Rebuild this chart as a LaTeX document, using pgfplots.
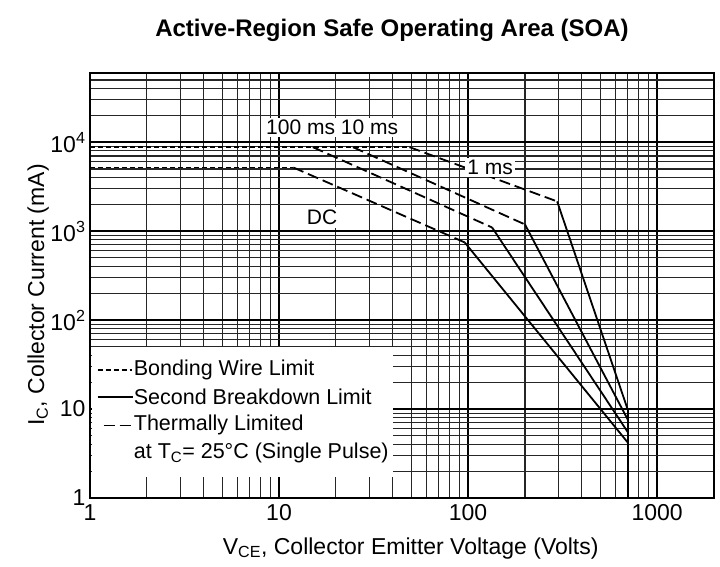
\documentclass[border=0pt]{standalone}
\usepackage{fontspec}
\setmainfont{Liberation Sans}
\usepackage{pgfplots}
\pgfplotsset{compat=1.18}
\begin{document}
\begin{tikzpicture}[x=1pt,y=1pt]
\path[use as bounding box] (-90,-68) rectangle (630,498);
\begin{axis}[
  at={(0,0)}, anchor=south west,
  scale only axis, width=624pt, height=425pt,
  xmode=log, ymode=log,
  xmin=1, xmax=2000, ymin=1, ymax=60000,
  xtick={1,10,100,1000}, xticklabels={1,10,100,1000},
  ytick={1,10,100,1000,10000},
  yticklabels={1,10,10\textsuperscript{2},10\textsuperscript{3},10\textsuperscript{4}},
  minor xtick={2,3,4,5,6,7,8,9,20,30,40,50,60,70,80,90,200,300,400,500,600,700,800,900,2000},
  minor ytick={2,3,4,5,6,7,8,9,20,30,40,50,60,70,80,90,200,300,400,500,600,700,800,900,2000,3000,4000,5000,6000,7000,8000,9000,20000,30000,40000,50000},
  grid=both,
  major grid style={black, line width=1.5pt},
  minor grid style={black!85, line width=1.1pt},
  major tick length=0pt, minor tick length=0pt,
  axis line style={black, line width=1.4pt},
  tick label style={font=\fontsize{23}{23}\selectfont},
  xticklabel style={yshift=-3pt},
  yticklabel style={xshift=-1pt},
  clip mode=individual,
]
% Bonding wire limit (short dashes)
\addplot[black, line width=1.8pt, dash pattern=on 5pt off 3pt] coordinates {(1,8800) (49,8800)};
\addplot[black, line width=1.8pt, dash pattern=on 5pt off 3pt] coordinates {(1,5200) (11.9,5200)};
% Thermally limited (long dashes)
\addplot[black, line width=1.8pt, dash pattern=on 11pt off 5pt] coordinates {(49,8800) (296,2160)};
\addplot[black, line width=1.8pt, dash pattern=on 11pt off 5pt] coordinates {(24.6,8800) (200,1190)};
\addplot[black, line width=1.8pt, dash pattern=on 11pt off 5pt] coordinates {(15.1,8800) (134,1100)};
\addplot[black, line width=1.8pt, dash pattern=on 11pt off 5pt] coordinates {(11.9,5200) (96,747)};
% Second breakdown limit (solid)
\addplot[black, line width=1.8pt] coordinates {(296,2160) (700,9.8)};
\addplot[black, line width=1.8pt] coordinates {(200,1190) (700,7.6)};
\addplot[black, line width=1.8pt] coordinates {(134,1100) (700,5.5)};
\addplot[black, line width=1.8pt] coordinates {(96,747) (700,4.2)};
\addplot[black, line width=2pt] coordinates {(700,9.8) (700,1)};
% curve labels
\node[fill=white, inner sep=2pt, font=\fontsize{21}{21}\selectfont] at (axis cs:19.1,14700) {100 ms 10 ms};
\node[fill=white, inner sep=2pt, font=\fontsize{21}{21}\selectfont] at (axis cs:131,5220) {1 ms};
\node[fill=white, inner sep=3pt, font=\fontsize{21}{21}\selectfont] at (axis cs:16.9,1430) {DC};
% legend box
\fill[white] (rel axis cs:0.003,0.049) rectangle (rel axis cs:0.486,0.355);
\node[anchor=west, font=\fontsize{21.5}{21.5}\selectfont, inner sep=0pt] (l1) at (rel axis cs:0.07,0.301) {Bonding Wire Limit};
\node[anchor=west, font=\fontsize{21.5}{21.5}\selectfont, inner sep=0pt] (l2) at (rel axis cs:0.07,0.237) {Second Breakdown Limit};
\node[anchor=west, font=\fontsize{21.5}{21.5}\selectfont, inner sep=0pt] (l3) at (rel axis cs:0.07,0.171) {Thermally Limited};
\node[anchor=west, font=\fontsize{21.5}{21.5}\selectfont, inner sep=0pt] (l4) at (rel axis cs:0.07,0.105) {at T\textsubscript{C}= 25°C (Single Pulse)};
\draw[black, line width=1.6pt, dash pattern=on 5pt off 3pt] ([xshift=-36pt]l1.west) -- ([xshift=-2pt]l1.west);
\draw[black, line width=1.6pt] ([xshift=-36pt]l2.west) -- ([xshift=-1pt]l2.west);
\draw[black, line width=1.6pt, dash pattern=on 11pt off 5pt] ([xshift=-30pt]l3.west) -- ([xshift=-1pt]l3.west);
% title and axis labels
\node[font=\bfseries\fontsize{24}{24}\selectfont] at (rel axis cs:0.484,1.101) {Active-Region Safe Operating Area (SOA)};
\node[font=\fontsize{23}{23}\selectfont] at (rel axis cs:0.514,-0.118) {V\textsubscript{CE}, Collector Emitter Voltage (Volts)};
\node[font=\fontsize{23}{23}\selectfont, rotate=90] at (rel axis cs:-0.083,0.478) {I\textsubscript{C}, Collector Current (mA)};
\end{axis}
\end{tikzpicture}
\end{document}
